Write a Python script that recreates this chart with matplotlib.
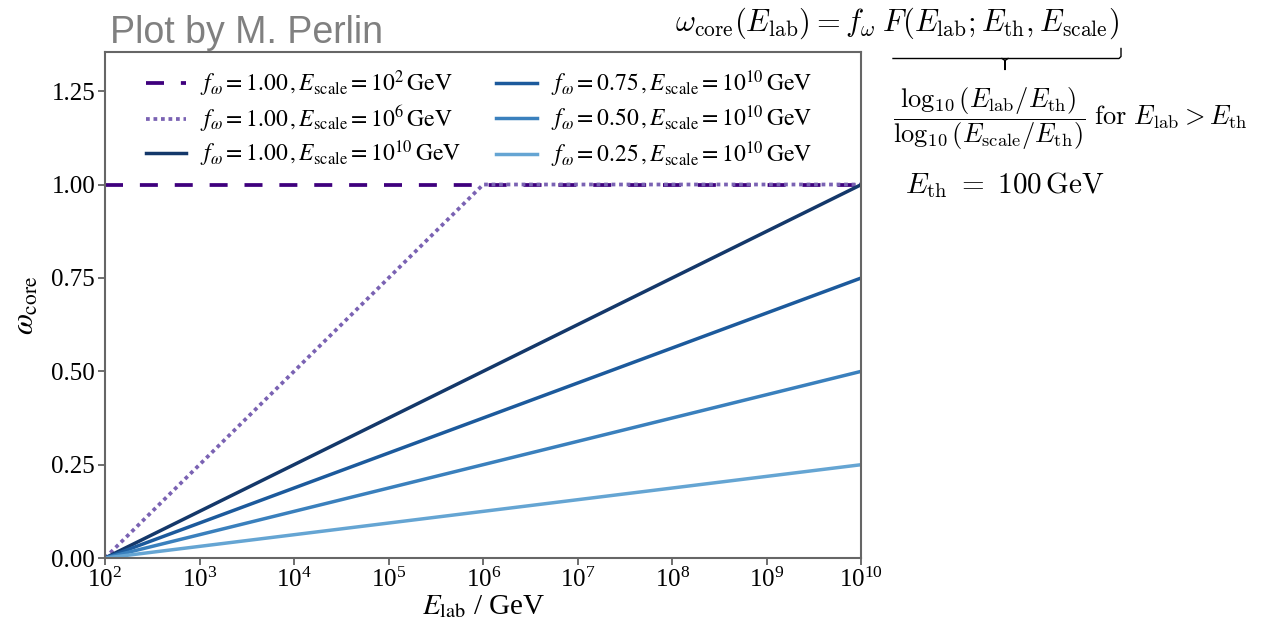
import matplotlib
matplotlib.use("Agg")
import matplotlib.pyplot as plt
from matplotlib.lines import Line2D

plt.rcParams['font.family'] = ['Liberation Serif', 'DejaVu Serif']
plt.rcParams['mathtext.fontset'] = 'stix'

# E_lab break points (GeV) and core fraction at each of them
e_lab = [1e2, 1e6, 1e10]
omega_scale_1e2 = [1.0, 1.0, 1.0]
omega_scale_1e6 = [0.0, 1.0, 1.0]
omega_f100 = [0.0, 0.5, 1.0]
omega_f075 = [0.0, 0.375, 0.75]
omega_f050 = [0.0, 0.25, 0.5]
omega_f025 = [0.0, 0.125, 0.25]

labels = [r'$f_\omega = 1.00\,, E_{\rm scale} = 10^{2}\,{\rm GeV}$',
          r'$f_\omega = 1.00\,, E_{\rm scale} = 10^{6}\,{\rm GeV}$',
          r'$f_\omega = 1.00\,, E_{\rm scale} = 10^{10}\,{\rm GeV}$',
          r'$f_\omega = 0.75\,, E_{\rm scale} = 10^{10}\,{\rm GeV}$',
          r'$f_\omega = 0.50\,, E_{\rm scale} = 10^{10}\,{\rm GeV}$',
          r'$f_\omega = 0.25\,, E_{\rm scale} = 10^{10}\,{\rm GeV}$']

fig = plt.figure(figsize=(12.8, 6.18), dpi=100)
ax = fig.add_axes([0.082, 0.097, 0.591, 0.819])

ax.plot(e_lab, omega_scale_1e2, color='#3f007d', lw=2.7, ls=(0, (4.8, 4.5)), label=labels[0])
ax.plot(e_lab, omega_scale_1e6, color='#7a62b3', lw=2.7, ls=(0, (1, 1)), label=labels[1])
ax.plot(e_lab, omega_f100, color='#14386a', lw=2.5, label=labels[2])
ax.plot(e_lab, omega_f075, color='#1c5a9c', lw=2.5, label=labels[3])
ax.plot(e_lab, omega_f050, color='#3a80bd', lw=2.5, label=labels[4])
ax.plot(e_lab, omega_f025, color='#65a5d3', lw=2.5, label=labels[5])

ax.set_xscale('log')
ax.set_xlim(1e2, 1e10)
ax.set_ylim(0, 1.355)
ax.set_yticks([0, 0.25, 0.5, 0.75, 1.0, 1.25])
ax.set_yticklabels(['0.00', '0.25', '0.50', '0.75', '1.00', '1.25'])
ax.set_xticks([10.0**k for k in range(2, 11)])
ax.minorticks_off()
ax.tick_params(labelsize=18, direction='out', length=5, width=1.2, color='#555555', pad=2)
for sp in ax.spines.values():
    sp.set_color('#666666')
    sp.set_linewidth(1.5)

ax.set_xlabel(r'$E_{\rm lab}$ / GeV', fontsize=21, labelpad=1)
ax.set_ylabel(r'$\omega_{\rm core}$', fontsize=22, labelpad=8)

ax.legend(ncol=2, loc='upper left', frameon=False, fontsize=17,
          handlelength=1.7, handletextpad=0.6, columnspacing=1.5,
          labelspacing=0.2, borderaxespad=0.3, bbox_to_anchor=(0.032, 1.0))

fig.text(0.086, 0.947, 'Plot by M. Perlin', family='Liberation Sans',
         fontsize=27, color='#808080', va='center')

# definition of the core fraction, written to the right of the axes
fig.text(0.7008, 0.962, r'$\omega_{\rm core}(E_{\rm lab}) = f_\omega\;F(E_{\rm lab};E_{\rm th},E_{\rm scale})$',
         fontsize=22, math_fontfamily='cm', ha='center', va='center')

# brace under F(...)
px, py = 1 / 1280, 1 / 618
bx0, bx1, bmid, by = 893 * px, 1121 * px, 1005 * px, 1 - 58.5 * py
fig.add_artist(Line2D([bx0, bx1 - 2 * px, bx1, bx1],
                      [by, by, by + 2 * py, by + 10 * py],
                      transform=fig.transFigure, color='black', lw=1.0))
fig.add_artist(Line2D([bmid - 3 * px, bmid, bmid, bmid, bmid + 3 * px],
                      [by, by - 2 * py, by - 11 * py, by - 2 * py, by],
                      transform=fig.transFigure, color='black', lw=1.0))

fig.text(0.698, 0.808, r'$\dfrac{\log_{10}(E_{\rm lab}/E_{\rm th})}{\log_{10}(E_{\rm scale}/E_{\rm th})}\ {\rm for}\ E_{\rm lab} > E_{\rm th}$',
         fontsize=19, math_fontfamily='cm', ha='left', va='center')
fig.text(0.707, 0.70, r'$E_{\rm th}\ =\ 100\,{\rm GeV}$',
         fontsize=21, math_fontfamily='cm', ha='left', va='center')

fig.savefig('out.png', dpi=100, facecolor='white')
